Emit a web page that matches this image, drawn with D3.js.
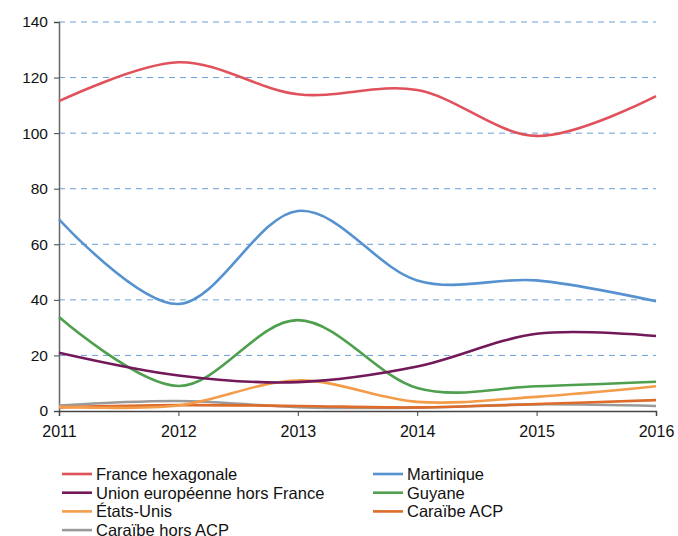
<!DOCTYPE html>
<html>
<head>
<meta charset="utf-8">
<script src="https://cdn.jsdelivr.net/npm/d3@7"></script>
<style>
  body { margin: 0; background: #fff; }
  svg text { font-family: "Liberation Sans", Arial, sans-serif; fill: #111; }
</style>
</head>
<body>
<div id="chart"></div>
<script>
var years = [2011, 2012, 2013, 2014, 2015, 2016];
var yTicks = [0, 20, 40, 60, 80, 100, 120, 140];

var seriesNames = ["France hexagonale", "Martinique", "Union européenne hors France",
                   "Guyane", "États-Unis", "Caraïbe ACP", "Caraïbe hors ACP"];
var seriesColors = ["#e0515b", "#5592cf", "#73195a", "#4e9f4e", "#f39c4a", "#dd6b2a", "#9a9a9a"];

var franceHex = [111.5, 125.5, 114, 115.5, 99, 113.3];
var martinique = [69, 38.5, 72, 47, 47, 39.5];
var ueHorsFrance = [21, 12.8, 10.4, 16, 27.8, 27];
var guyane = [33.8, 9, 32.7, 8.3, 8.9, 10.5];
var etatsUnis = [1.5, 2, 11, 3.3, 5.1, 8.9];
var caraibeAcp = [1.3, 2.1, 1.8, 1.3, 2.5, 3.9];
var caraibeHorsAcp = [2, 3.6, 1.4, 1.2, 2.4, 1.8];

var allValues = [franceHex, martinique, ueHorsFrance, guyane, etatsUnis, caraibeAcp, caraibeHorsAcp];

var w = 678, h = 536;
var padLeft = 59, padRight = 656, padTop = 22, padBottom = 411;

var svg = d3.select("#chart").append("svg")
    .attr("width", w)
    .attr("height", h);

var x = d3.scaleLinear().domain([2011, 2016]).range([padLeft, padRight]);
var y = d3.scaleLinear().domain([0, 140]).range([padBottom, padTop]);

// grid
svg.append("g")
    .selectAll("line")
    .data(yTicks.slice(1))
    .enter()
    .append("line")
    .attr("x1", padLeft)
    .attr("x2", padRight)
    .attr("y1", function (d) { return y(d); })
    .attr("y2", function (d) { return y(d); })
    .style("stroke", "#6a9fd8")
    .style("stroke-width", 1)
    .style("stroke-dasharray", "6,5");

// y axis
var yAxis = d3.axisLeft(y).tickValues(yTicks).tickSize(5).tickPadding(6);
var gy = svg.append("g")
    .attr("transform", "translate(" + padLeft + ",0)")
    .call(yAxis);
gy.select(".domain").style("stroke", "#666").style("stroke-width", 1.5);
gy.selectAll(".tick line").style("stroke", "#444");
gy.selectAll("text").style("font-size", "15.5px");

// x axis
var xAxis = d3.axisBottom(x).tickValues(years).tickFormat(d3.format("d")).tickSize(5).tickPadding(10);
var gx = svg.append("g")
    .attr("transform", "translate(0," + padBottom + ")")
    .call(xAxis);
gx.select(".domain").style("stroke", "#444").style("stroke-width", 1.5);
gx.selectAll(".tick line").style("stroke", "#444");
gx.selectAll("text").style("font-size", "16px");

// lines
var line = d3.line()
    .x(function (d, i) { return x(years[i]); })
    .y(function (d) { return y(d); })
    .curve(d3.curveCardinal.tension(0));

// draw bottom series first so upper ones overlap like the original
var order = [6, 5, 4, 3, 2, 1, 0];
order.forEach(function (k) {
    svg.append("path")
        .datum(allValues[k])
        .attr("d", line)
        .style("fill", "none")
        .style("stroke", seriesColors[k])
        .style("stroke-width", 2.6);
});

// legend
var legend = svg.append("g");
seriesNames.forEach(function (name, i) {
    var col = i % 2, row = Math.floor(i / 2);
    var lx = col == 0 ? 62 : 373;
    var ly = 474 + row * 18.7;
    legend.append("line")
        .attr("x1", lx).attr("x2", lx + 30)
        .attr("y1", ly).attr("y2", ly)
        .style("stroke", seriesColors[i])
        .style("stroke-width", 2.6);
    legend.append("text")
        .attr("x", lx + 34)
        .attr("y", ly + 6)
        .style("font-size", "16.5px")
        .text(name);
});
</script>
</body>
</html>
